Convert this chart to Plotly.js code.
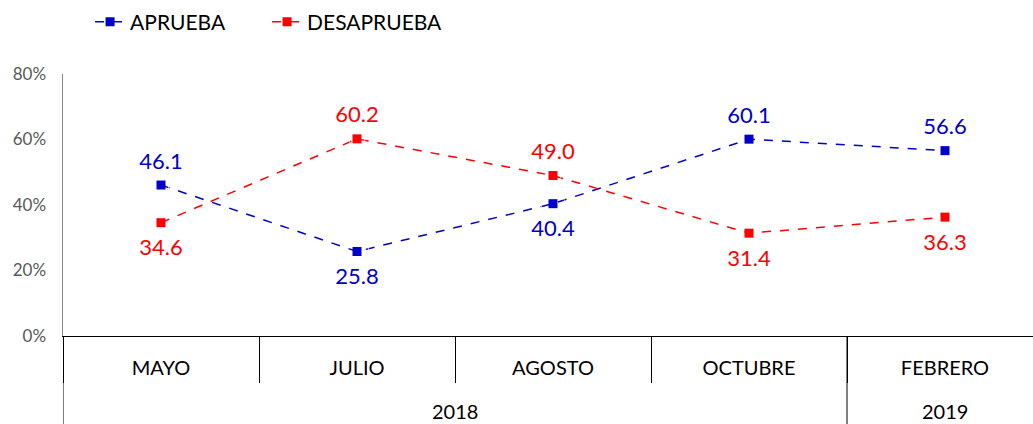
<!DOCTYPE html>
<html>
<head>
<meta charset="utf-8">
<script src="https://cdn.plot.ly/plotly-3.0.1.min.js"></script>
<style>html,body{margin:0;padding:0;background:#fff;}#chart{width:1033px;height:424px;}</style>
</head>
<body>
<div id="chart"></div>
<script>
const years = ["2018", "2018", "2018", "2018", "2019"];
const months = ["MAYO", "JULIO", "AGOSTO", "OCTUBRE", "FEBRERO"];
const aprueba = [46.1, 25.8, 40.4, 60.1, 56.6];
const desaprueba = [34.6, 60.2, 49.0, 31.4, 36.3];

const FONT = "Lato, 'Open Sans', sans-serif";
const BLUE = "#0000CC";
const RED = "#FF0000";

const H = 262, T = 74, B = 88; // plot height and margins (px)

const posA = aprueba.map((v, i) => v >= desaprueba[i] ? "top center" : "bottom center");
const posD = desaprueba.map((v, i) => v > aprueba[i] ? "top center" : "bottom center");
const padSize = p => p.startsWith("top") ? 16 : 24;

function series(name, vals, color, pos) {
  return [
    {
      name: name, x: months, y: vals, type: "scatter", mode: "lines+markers",
      line: {color: color, width: 1.5, dash: "dash"},
      marker: {color: color, symbol: "square", size: 9},
      cliponaxis: false, hoverinfo: "none"
    },
    {
      name: name + " labels", x: months, y: vals, type: "scatter", mode: "markers+text",
      marker: {color: "rgba(0,0,0,0)", size: pos.map(padSize)},
      text: vals.map(v => v.toFixed(1)), textposition: pos,
      textfont: {color: color, size: 22, family: FONT},
      showlegend: false, cliponaxis: false, hoverinfo: "none"
    }
  ];
}

const traces = [...series("APRUEBA", aprueba, BLUE, posA), ...series("DESAPRUEBA", desaprueba, RED, posD)];

// year groups: centre annotation and boundary dividers
const groups = [];
years.forEach((y, i) => {
  if (!groups.length || groups[groups.length - 1].year !== y) groups.push({year: y, start: i, end: i});
  else groups[groups.length - 1].end = i;
});
const annotations = groups.map(g => ({
  x: (g.start + g.end) / 2, xref: "x", y: -(411 - 336) / H, yref: "paper",
  text: g.year, showarrow: false, xanchor: "center", yanchor: "middle",
  font: {size: 20, family: FONT, color: "#000"}
}));
const shapes = groups.map(g => ({
  type: "line", xref: "x", yref: "paper", x0: g.start - 0.5, x1: g.start - 0.5,
  y0: 0, y1: -B / H, line: {color: "#000", width: 1}
}));

const layout = {
  width: 1033, height: 424,
  margin: {l: 63, r: 0, t: T, b: B, autoexpand: false},
  paper_bgcolor: "#fff", plot_bgcolor: "#fff",
  font: {family: FONT, color: "#000"},
  showlegend: true,
  legend: {
    orientation: "h", x: 0.0279, xanchor: "left", y: 1 + (T - 22) / H, yanchor: "middle",
    font: {size: 21, family: FONT}, itemwidth: 30, entrywidth: 132, bgcolor: "rgba(0,0,0,0)"
  },
  annotations: annotations,
  shapes: shapes,
  xaxis: {
    type: "category", range: [-0.5, months.length - 0.5 - 10 / 196], automargin: false,
    showline: true, linecolor: "#000", linewidth: 1,
    showgrid: false, zeroline: false,
    ticks: "outside", tickson: "boundaries", ticklen: 46, tickcolor: "#000", tickwidth: 1,
    ticklabelstandoff: 14,
    tickfont: {size: 20, family: FONT, color: "#000"}
  },
  yaxis: {
    range: [0, 80], dtick: 20, ticksuffix: "%", automargin: false,
    showline: true, linecolor: "#868686", linewidth: 1.5,
    showgrid: false, zeroline: false, ticks: "",
    ticklabelstandoff: 12,
    tickfont: {size: 17, family: FONT, color: "#595959"}
  }
};

Plotly.newPlot("chart", traces, layout, {staticPlot: true, displayModeBar: false});
</script>
</body>
</html>
